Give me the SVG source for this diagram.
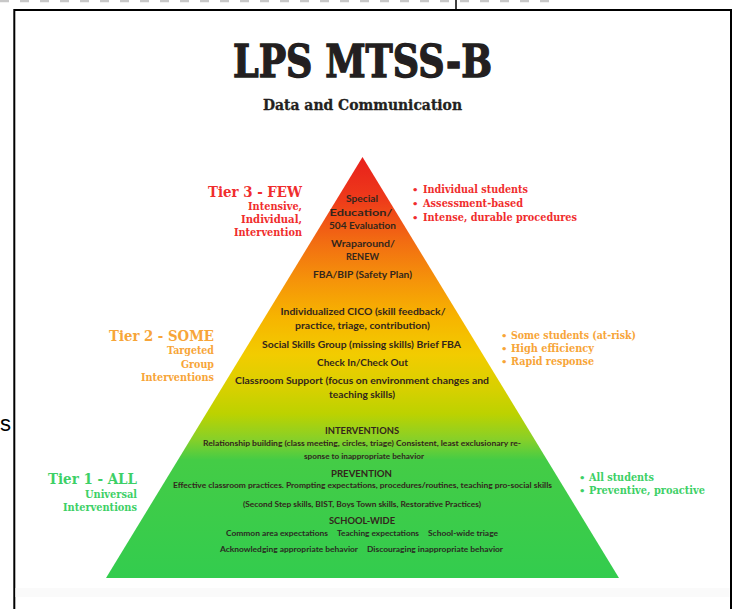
<svg xmlns="http://www.w3.org/2000/svg" width="733" height="609" viewBox="0 0 733 609">
  <defs>
    <linearGradient id="pyrGrad" gradientUnits="userSpaceOnUse" x1="0" y1="157" x2="0" y2="578">
      <stop offset="0" stop-color="#e8201c"/>
      <stop offset="0.10" stop-color="#ee3a1a"/>
      <stop offset="0.20" stop-color="#f26c12"/>
      <stop offset="0.29" stop-color="#f5920a"/>
      <stop offset="0.38" stop-color="#f7b400"/>
      <stop offset="0.47" stop-color="#f2cc00"/>
      <stop offset="0.55" stop-color="#d8d000"/>
      <stop offset="0.61" stop-color="#bcd200"/>
      <stop offset="0.67" stop-color="#88d028"/>
      <stop offset="0.72" stop-color="#44cc46"/>
      <stop offset="1" stop-color="#33cc4e"/>
    </linearGradient>
  </defs>
  <style>
    .title { font-family: "DejaVu Serif", "Liberation Serif", serif; font-weight: bold; fill: #231f20; stroke: #231f20; }
    .lbl { font-family: "DejaVu Serif", "Liberation Serif", serif; font-weight: bold; }
    .t3 { fill: #f02d2d; }
    .t2 { fill: #f7a538; }
    .t1 { fill: #3dd066; }
    .p { font-family: Lato, "Open Sans", "Liberation Sans", sans-serif; font-weight: bold; fill: #33261c; text-anchor: middle; }
    .ps { font-family: Lato, "Open Sans", "Liberation Sans", sans-serif; font-weight: bold; fill: #2a2a22; }
  </style>
  <rect x="0" y="0" width="733" height="609" fill="#ffffff"/>
  <!-- clipped stray text strip at top -->
  <line x1="0" y1="1" x2="550" y2="1" stroke="#c8c8c8" stroke-width="2.5" stroke-dasharray="9 11"/>
  <line x1="456" y1="0" x2="456" y2="9" stroke="#000" stroke-width="1.5"/>
  <text x="0" y="431" font-family="Liberation Sans, Arial, sans-serif" font-size="22" fill="#000">s</text>
  <!-- frame -->
  <rect x="14.3" y="10" width="716.7" height="640" fill="#ffffff" stroke="#000" stroke-width="2"/>
  <rect x="15.5" y="588" width="714" height="9" fill="#fafafa"/>

  <g id="title">
    <text class="title" x="233" y="77" font-size="45" stroke-width="1.4" textLength="259" lengthAdjust="spacingAndGlyphs">LPS MTSS-B</text>
    <text class="title" x="263" y="110" font-size="14" stroke-width="0.3" textLength="199" lengthAdjust="spacingAndGlyphs">Data and Communication</text>
  </g>

  <g id="pyramid">
    <polygon points="362.5,157 619,578 106,578" fill="url(#pyrGrad)"/>
  </g>

  <g id="tier3-content">
    <text class="p" x="362" y="202" font-size="9.5" textLength="32" lengthAdjust="spacingAndGlyphs">Special</text>
    <text class="p" x="361" y="215.5" font-size="9.5" textLength="63" lengthAdjust="spacingAndGlyphs">Education/</text>
    <text class="p" x="362.5" y="229" font-size="9.5" textLength="67" lengthAdjust="spacingAndGlyphs">504 Evaluation</text>
    <text class="p" x="363" y="247" font-size="9.5" textLength="64" lengthAdjust="spacingAndGlyphs">Wraparound/</text>
    <text class="p" x="362.5" y="260" font-size="9.5" textLength="33" lengthAdjust="spacingAndGlyphs">RENEW</text>
    <text class="p" x="362.5" y="278" font-size="9.5" textLength="99" lengthAdjust="spacingAndGlyphs">FBA/BIP (Safety Plan)</text>
  </g>

  <g id="tier2-content">
    <text class="p" x="363" y="315" font-size="9.5" textLength="165" lengthAdjust="spacingAndGlyphs">Individualized CICO (skill feedback/</text>
    <text class="p" x="362.5" y="329" font-size="9.5" textLength="135" lengthAdjust="spacingAndGlyphs">practice, triage, contribution)</text>
    <text class="p" x="361.5" y="348" font-size="9.5" textLength="199" lengthAdjust="spacingAndGlyphs">Social Skills Group (missing skills) Brief FBA</text>
    <text class="p" x="362.5" y="366" font-size="9.5" textLength="91" lengthAdjust="spacingAndGlyphs">Check In/Check Out</text>
    <text class="p" x="362" y="384" font-size="9.5" textLength="254" lengthAdjust="spacingAndGlyphs">Classroom Support (focus on environment changes and</text>
    <text class="p" x="362" y="398" font-size="9.5" textLength="66" lengthAdjust="spacingAndGlyphs">teaching skills)</text>
  </g>

  <g id="tier1-content">
    <text class="p" x="362" y="434" font-size="8.5" textLength="74" lengthAdjust="spacingAndGlyphs">INTERVENTIONS</text>
    <text class="p" x="362" y="446" font-size="7.5" textLength="318" lengthAdjust="spacingAndGlyphs">Relationship building (class meeting, circles, triage) Consistent, least exclusionary re-</text>
    <text class="p" x="364" y="459" font-size="7.5" textLength="120" lengthAdjust="spacingAndGlyphs">sponse to inappropriate behavior</text>
    <text class="p" x="361.5" y="477" font-size="8.5" textLength="61" lengthAdjust="spacingAndGlyphs">PREVENTION</text>
    <text class="p" x="362.5" y="488" font-size="7.5" textLength="379" lengthAdjust="spacingAndGlyphs">Effective classroom practices. Prompting expectations, procedures/routines, teaching pro-social skills</text>
    <text class="p" x="362" y="507" font-size="7.5" textLength="238" lengthAdjust="spacingAndGlyphs">(Second Step skills, BIST, Boys Town skills, Restorative Practices)</text>
    <text class="p" x="362" y="524" font-size="8.5" textLength="66" lengthAdjust="spacingAndGlyphs">SCHOOL-WIDE</text>
    <text class="ps" x="226" y="536" font-size="7.5" textLength="102" lengthAdjust="spacingAndGlyphs">Common area expectations</text>
    <text class="ps" x="337" y="536" font-size="7.5" textLength="82" lengthAdjust="spacingAndGlyphs">Teaching expectations</text>
    <text class="ps" x="428" y="536" font-size="7.5" textLength="70" lengthAdjust="spacingAndGlyphs">School-wide triage</text>
    <text class="ps" x="220" y="552" font-size="7.5" textLength="138" lengthAdjust="spacingAndGlyphs">Acknowledging appropriate behavior</text>
    <text class="ps" x="367" y="552" font-size="7.5" textLength="136" lengthAdjust="spacingAndGlyphs">Discouraging inappropriate behavior</text>
  </g>

  <g id="tier3-label" class="lbl t3" text-anchor="end">
    <text x="302" y="197" font-size="15" textLength="94" lengthAdjust="spacingAndGlyphs">Tier 3 - FEW</text>
    <text x="302" y="210" font-size="11" textLength="54" lengthAdjust="spacingAndGlyphs">Intensive,</text>
    <text x="302" y="223" font-size="11" textLength="61" lengthAdjust="spacingAndGlyphs">Individual,</text>
    <text x="302" y="236" font-size="11" textLength="68" lengthAdjust="spacingAndGlyphs">Intervention</text>
  </g>
  <g id="tier3-bullets" class="lbl t3">
    <text x="412" y="193" font-size="10">•</text>
    <text x="423" y="193" font-size="10.5" textLength="105" lengthAdjust="spacingAndGlyphs">Individual students</text>
    <text x="412" y="207" font-size="10">•</text>
    <text x="423" y="207" font-size="10.5" textLength="100" lengthAdjust="spacingAndGlyphs">Assessment-based</text>
    <text x="412" y="221" font-size="10">•</text>
    <text x="423" y="221" font-size="10.5" textLength="154" lengthAdjust="spacingAndGlyphs">Intense, durable procedures</text>
  </g>

  <g id="tier2-label" class="lbl t2" text-anchor="end">
    <text x="214" y="341" font-size="15" textLength="105" lengthAdjust="spacingAndGlyphs">Tier 2 - SOME</text>
    <text x="214" y="354" font-size="11" textLength="47" lengthAdjust="spacingAndGlyphs">Targeted</text>
    <text x="214" y="368" font-size="11" textLength="33" lengthAdjust="spacingAndGlyphs">Group</text>
    <text x="214" y="381" font-size="11" textLength="73" lengthAdjust="spacingAndGlyphs">Interventions</text>
  </g>
  <g id="tier2-bullets" class="lbl t2">
    <text x="501" y="339" font-size="10">•</text>
    <text x="511" y="339" font-size="10.5" textLength="125" lengthAdjust="spacingAndGlyphs">Some students (at-risk)</text>
    <text x="501" y="352" font-size="10">•</text>
    <text x="511" y="352" font-size="10.5" textLength="83" lengthAdjust="spacingAndGlyphs">High efficiency</text>
    <text x="501" y="365" font-size="10">•</text>
    <text x="511" y="365" font-size="10.5" textLength="83" lengthAdjust="spacingAndGlyphs">Rapid response</text>
  </g>

  <g id="tier1-label" class="lbl t1" text-anchor="end">
    <text x="137" y="484" font-size="15" textLength="89" lengthAdjust="spacingAndGlyphs">Tier 1 - ALL</text>
    <text x="137" y="498" font-size="11" textLength="52" lengthAdjust="spacingAndGlyphs">Universal</text>
    <text x="137" y="511" font-size="11" textLength="74" lengthAdjust="spacingAndGlyphs">Interventions</text>
  </g>
  <g id="tier1-bullets" class="lbl t1">
    <text x="579" y="481" font-size="10">•</text>
    <text x="589" y="481" font-size="10.5" textLength="65" lengthAdjust="spacingAndGlyphs">All students</text>
    <text x="579" y="494" font-size="10">•</text>
    <text x="589" y="494" font-size="10.5" textLength="116" lengthAdjust="spacingAndGlyphs">Preventive, proactive</text>
  </g>

  <g id="connectors"></g>
</svg>
